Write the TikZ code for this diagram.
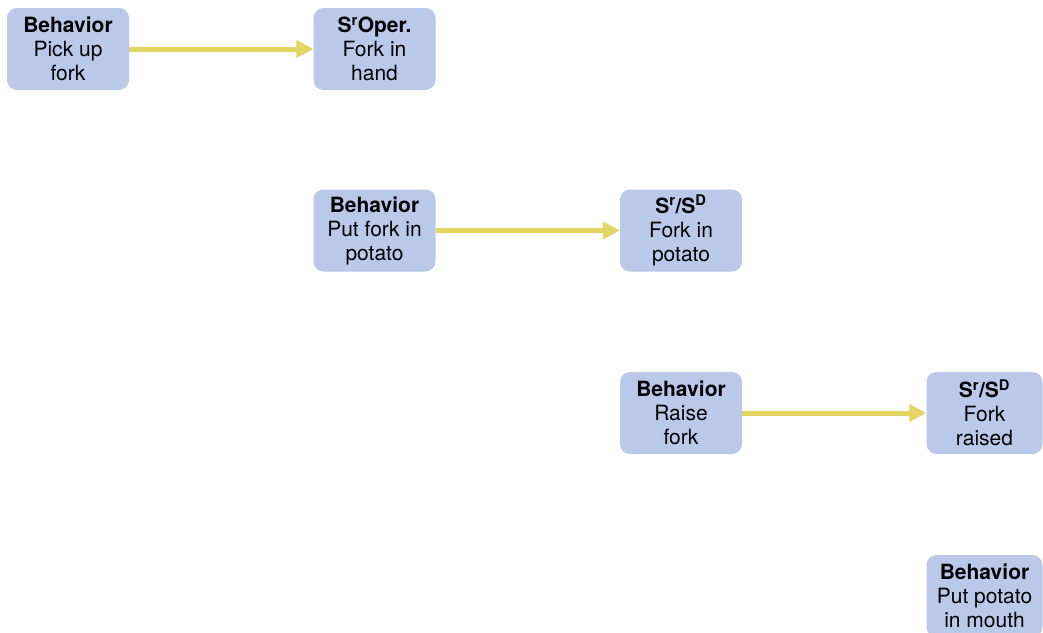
\documentclass[tikz,border=0pt]{standalone}
\usepackage{fontspec}
\setmainfont{TeX Gyre Heros}
\usepackage{tikz}
\usetikzlibrary{arrows.meta}
\definecolor{stepblue}{RGB}{186,201,233}
\definecolor{linkyellow}{RGB}{226,213,100}
\tikzset{
	chainbox/.style={fill=stepblue, rounded corners=10pt, minimum width=122pt,
		minimum height=82pt, align=center, inner sep=0pt,
		font=\fontsize{21}{24}\selectfont},
	chainlink/.style={linkyellow, line width=5pt,
		-{Triangle[length=17pt,width=17pt]}}
}
\newcommand{\Sr}{S\textsuperscript{r}}
\newcommand{\SD}{S\textsuperscript{D}}

\begin{document}
\begin{tikzpicture}[x=1pt, y=-1pt]
		\useasboundingbox (0,0) rectangle (1043,632);
		\clip (0,0) rectangle (1043,632);
		% First link
		\node[chainbox] (pickup) at (68,49) {\textbf{Behavior}\\Pick up\\fork};
		\node[chainbox] (inhand) at (374.5,49) {\textbf{\Sr Oper.}\\Fork in\\hand};
		% Second link
		\node[chainbox] (putfork) at (374.5,230.5) {\textbf{Behavior}\\Put fork in\\potato};
		\node[chainbox] (inpotato) at (681,230.5) {\textbf{\Sr/\SD}\\Fork in\\potato};
		% Third link
		\node[chainbox] (raise) at (681,413) {\textbf{Behavior}\\Raise\\fork};
		\node[chainbox, minimum width=116pt] (raised) at (984.5,413) {\textbf{\Sr/\SD}\\Fork\\raised};
		% Last behavior
		\node[chainbox, minimum width=116pt] (mouth) at (984.5,596) {\textbf{Behavior}\\Put potato\\in mouth};
		% Arrows
		\draw[chainlink] (pickup) -- (inhand);
		\draw[chainlink] (putfork) -- (inpotato);
		\draw[chainlink] (raise) -- (raised);
	\end{tikzpicture}
\end{document}
